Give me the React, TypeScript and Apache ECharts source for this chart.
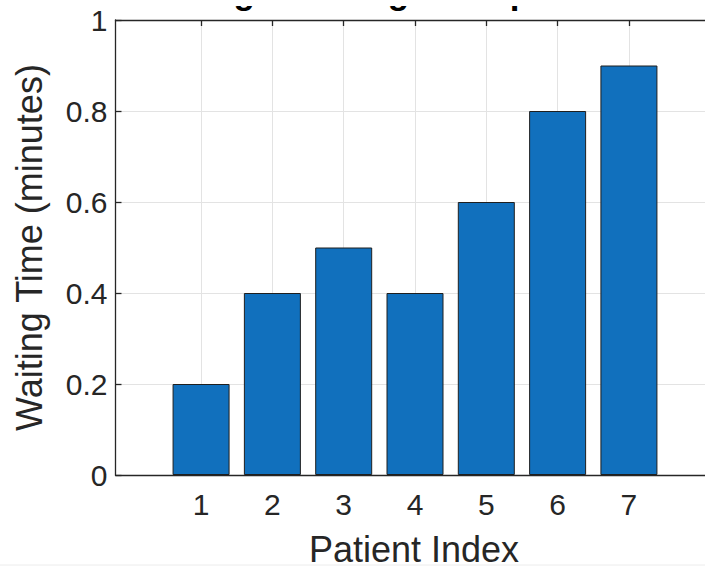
import React, { useEffect, useRef } from "react";
import * as echarts from "echarts";

const patientIndex = [1, 2, 3, 4, 5, 6, 7];
const waitingTimes = [0.2, 0.4, 0.5, 0.4, 0.6, 0.8, 0.9];
const yTicks = [0, 0.2, 0.4, 0.6, 0.8, 1];
const titleText = "Average Waiting Time per Patient";
const xLabelText = "Patient Index";
const yLabelText = "Waiting Time (minutes)";

const FONT = "Arial, 'Liberation Sans', Helvetica, sans-serif";
const AX = "#262626";
const GRID = "#e3e3e3";

export default function App() {
  const ref = useRef<HTMLDivElement>(null);
  useEffect(() => {
    if (!ref.current) return;
    const chart = echarts.init(ref.current, undefined, { renderer: "svg" });
    const baseX = {
      type: "value",
      min: -0.2,
      max: 8.2,
      axisLine: { show: true, onZero: false, lineStyle: { color: AX, width: 1.3 } },
      axisTick: { show: true, inside: true, length: 6, customValues: patientIndex, lineStyle: { color: AX, width: 1.3 } },
    };
    const baseY = {
      type: "value",
      min: yTicks[0],
      max: yTicks[yTicks.length - 1],
      interval: 0.2,
      axisLine: { show: true, onZero: false, lineStyle: { color: AX, width: 1.3 } },
      axisTick: { show: true, inside: true, length: 6, lineStyle: { color: AX, width: 1.3 } },
    };
    chart.setOption({
      animation: false,
      backgroundColor: "#ffffff",
      grid: { left: 115.5, top: 20, width: 599, height: 455, containLabel: false, outerBoundsMode: "none" },
      xAxis: [
        {
          ...baseX,
          position: "bottom",
          axisLabel: { show: true, customValues: patientIndex, fontSize: 30, margin: 14, color: AX, fontFamily: FONT },
          splitLine: { show: true, lineStyle: { color: GRID, width: 1 } },
        },
        {
          ...baseX,
          position: "top",
          axisLabel: { show: false },
          splitLine: { show: false },
        },
      ],
      yAxis: [
        {
          ...baseY,
          position: "left",
          axisLabel: { show: true, fontSize: 30, margin: 8, color: AX, fontFamily: FONT },
          splitLine: { show: true, lineStyle: { color: GRID, width: 1 } },
        },
        {
          ...baseY,
          position: "right",
          axisLabel: { show: false },
          splitLine: { show: false },
        },
      ],
      series: [
        {
          type: "bar",
          xAxisIndex: 0,
          yAxisIndex: 0,
          barWidth: 57,
          data: patientIndex.map((p, i) => [p, waitingTimes[i]]),
          itemStyle: { color: "#1170BD", borderColor: "#1f1f1f", borderWidth: 1 },
        },
      ],
      graphic: [
        {
          type: "text",
          x: 414,
          y: -8.5,
          z: 10,
          style: {
            text: titleText,
            font: `bold 35px ${FONT}`,
            fill: "#000000",
            align: "center",
            verticalAlign: "middle",
            textAlign: "center",
            textVerticalAlign: "middle",
          },
        },
        {
          type: "rect",
          z: 11,
          shape: { x: 117, y: 0, width: 643, height: 6 },
          style: { fill: "#ffffff" },
        },
        {
          type: "text",
          x: 414,
          y: 549.5,
          style: {
            text: xLabelText,
            font: `36px ${FONT}`,
            fill: AX,
            align: "center",
            verticalAlign: "middle",
            textAlign: "center",
            textVerticalAlign: "middle",
          },
        },
        {
          type: "text",
          x: 29.5,
          y: 247.5,
          rotation: Math.PI / 2,
          style: {
            text: yLabelText,
            font: `36px ${FONT}`,
            fill: AX,
            align: "center",
            verticalAlign: "middle",
            textAlign: "center",
            textVerticalAlign: "middle",
          },
        },
        {
          type: "line",
          shape: { x1: 0, y1: 565, x2: 760, y2: 565 },
          style: { stroke: "#ececec", lineWidth: 1 },
        },
      ],
    });
    return () => chart.dispose();
  }, []);
  return (
    <div style={{ position: "absolute", left: 0, top: 0, width: 705, height: 569, overflow: "hidden", background: "#fff" }}>
      <div ref={ref} style={{ width: 760, height: 569 }} />
    </div>
  );
}
